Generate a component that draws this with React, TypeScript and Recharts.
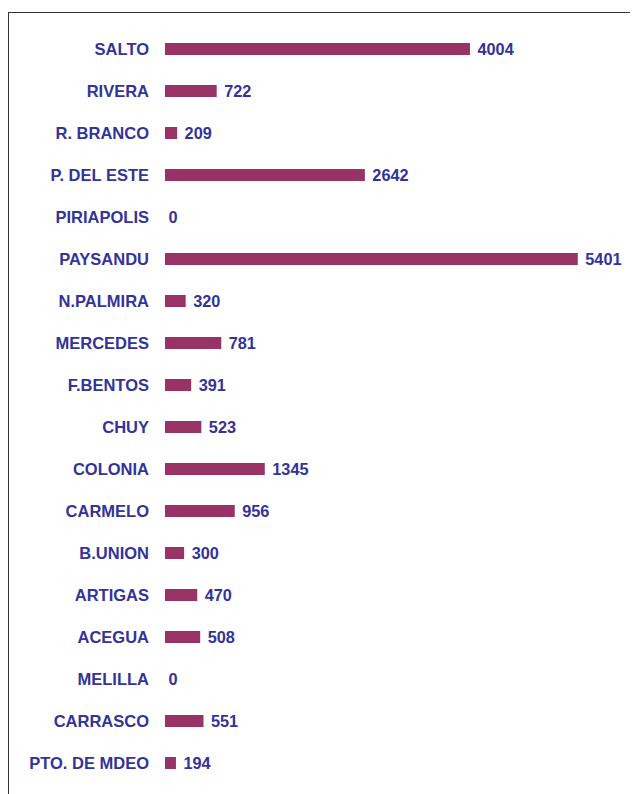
import { BarChart, Bar, XAxis, YAxis, LabelList, Rectangle } from "recharts";

const places = [
  "SALTO",
  "RIVERA",
  "R. BRANCO",
  "P. DEL ESTE",
  "PIRIAPOLIS",
  "PAYSANDU",
  "N.PALMIRA",
  "MERCEDES",
  "F.BENTOS",
  "CHUY",
  "COLONIA",
  "CARMELO",
  "B.UNION",
  "ARTIGAS",
  "ACEGUA",
  "MELILLA",
  "CARRASCO",
  "PTO. DE MDEO",
];

const counts = [
  4004, 722, 209, 2642, 0, 5401, 320, 781, 391, 523, 1345, 956, 300, 470, 508,
  0, 551, 194,
];

const data = places.map((name, i) => ({ name, value: counts[i] }));

const TEXT = "#333399";
const BAR = "#993366";
const FONT = "'Liberation Sans', Arial, sans-serif";

// bars only drawn when they have length; zero values just get their label
function BarShape(props: any) {
  if (!(props.width > 0)) return <g />;
  return <Rectangle {...props} />;
}

// Excel-style value label right of the bar end
function ValueLabel(props: any) {
  const { x, y, width, height, value } = props;
  return (
    <text
      x={x + width + 7.5}
      y={y + height / 2}
      dy={6}
      fill={TEXT}
      fontSize={16.3}
      fontWeight="bold"
      fontFamily={FONT}
    >
      {value}
    </text>
  );
}

export default function App() {
  return (
    <div
      style={{
        position: "relative",
        margin: "-8px 0 0 -8px",
        width: 638,
        height: 794,
        overflow: "hidden",
        background: "#fff",
      }}
    >
      <div
        style={{
          position: "absolute",
          left: 8,
          top: 12,
          width: 660,
          height: 820,
          border: "1.5px solid #333",
        }}
      />
      <div style={{ position: "absolute", left: 0, top: 0 }}>
        <BarChart
          width={638}
          height={794}
          data={data}
          layout="vertical"
          margin={{ top: 28, right: 14, left: 0, bottom: 10 }}
          barSize={12}
        >
          <XAxis type="number" domain={[52, 6000]} allowDataOverflow hide />
          <YAxis
            type="category"
            dataKey="name"
            width={165}
            axisLine={false}
            tickLine={false}
            tickSize={14}
            tickMargin={2}
            interval={0}
            tick={{
              fill: TEXT,
              fontSize: 16.5,
              fontWeight: "bold",
              fontFamily: FONT,
            }}
          />
          <Bar
            dataKey="value"
            fill={BAR}
            shape={<BarShape />}
            isAnimationActive={false}
          >
            <LabelList dataKey="value" content={<ValueLabel />} />
          </Bar>
        </BarChart>
      </div>
    </div>
  );
}
